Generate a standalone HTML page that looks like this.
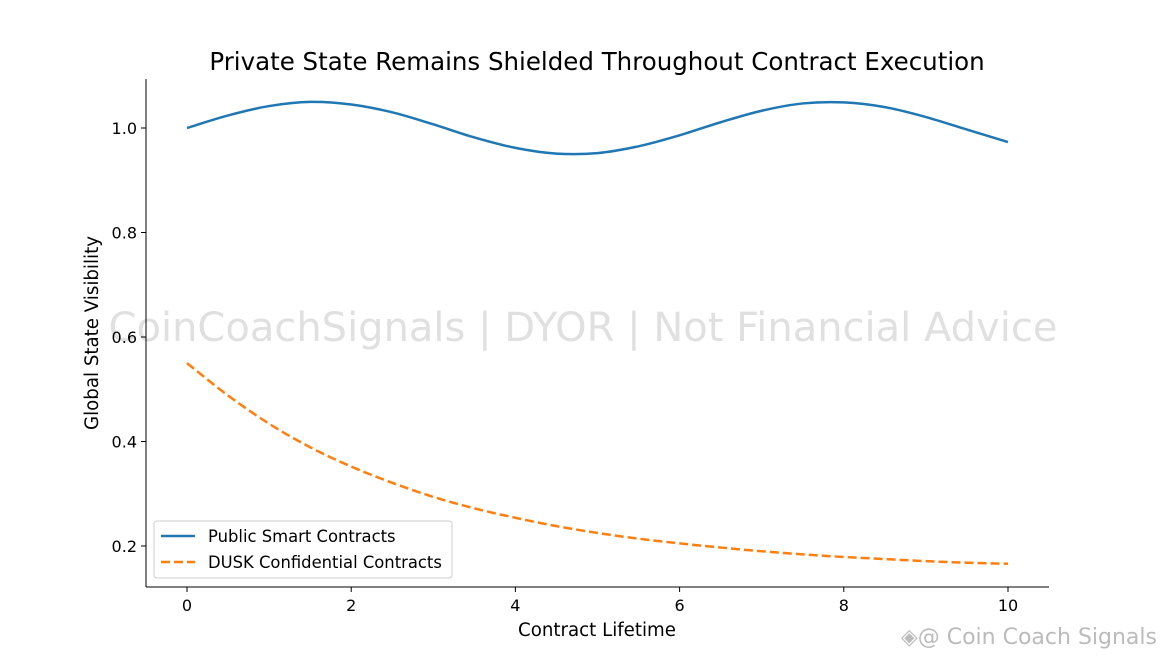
<!DOCTYPE html>
<html><head><meta charset="utf-8"><style>
html,body{margin:0;padding:0;background:#fff;}
svg{display:block;font-family:"DejaVu Sans","Liberation Sans",sans-serif;}
</style></head><body>
<svg id="chart" width="1165" height="660" viewBox="0 0 1165 660">
<text x="597" y="70" text-anchor="middle" font-size="24.5" fill="#000">Private State Remains Shielded Throughout Contract Execution</text>
<text x="583" y="341" text-anchor="middle" font-size="40" fill="#d9d9d9" opacity="0.8">CoinCoachSignals | DYOR | Not Financial Advice</text>
<g id="axes"></g>
<g id="series"></g>
<text x="597" y="636" text-anchor="middle" font-size="18.2">Contract Lifetime</text>
<text transform="translate(98,333) rotate(-90)" text-anchor="middle" font-size="18.2">Global State Visibility</text>
<g>
<rect x="154" y="521" width="298" height="57" rx="3" fill="#fff" fill-opacity="0.8" stroke="#ccc"/>
<line x1="161" y1="536" x2="195" y2="536" stroke="#1f77b4" stroke-width="2.5"/>
<text x="208" y="542" font-size="16.4">Public Smart Contracts</text>
<line x1="161" y1="562" x2="195" y2="562" stroke="#ff7f0e" stroke-width="2.5" stroke-dasharray="9,4"/>
<text x="208" y="568" font-size="16.4">DUSK Confidential Contracts</text>
</g>
<text x="1157" y="644" text-anchor="end" font-size="22" fill="#bbb">◈@ Coin Coach Signals</text>
</svg>
<script>
const xValues=[0,0.5,1,1.5,2,2.5,3,3.5,4,4.5,5,5.5,6,6.5,7,7.5,8,8.5,9,9.5,10];
const publicValues=[1.0,1.024,1.042,1.050,1.045,1.030,1.007,0.982,0.962,0.951,0.952,0.965,0.986,1.011,1.033,1.047,1.049,1.040,1.021,0.997,0.973];
const duskValues=[0.55,0.488,0.434,0.389,0.352,0.321,0.294,0.272,0.254,0.238,0.225,0.214,0.205,0.197,0.190,0.184,0.179,0.175,0.171,0.168,0.166];
const xTicks=[0,2,4,6,8,10];
const yTicks=[0.2,0.4,0.6,0.8,1.0];
const yTickLabels=["0.2","0.4","0.6","0.8","1.0"];
const NS="http://www.w3.org/2000/svg";
const sx=v=>187+v*82.1;
const sy=v=>128-(v-1.0)*522.5;
const axes=document.getElementById('axes');
function mk(tag,attrs,parent){const e=document.createElementNS(NS,tag);for(const k in attrs)e.setAttribute(k,attrs[k]);parent.appendChild(e);return e;}
const la=mk('line',{x1:146,y1:79,x2:146,y2:587,stroke:'#000','stroke-width':1},axes);


const ba=mk('line',{x1:146,y1:587,x2:1049,y2:587,stroke:'#000','stroke-width':1},axes);


xTicks.forEach(t=>{
 mk('line',{x1:sx(t),y1:587,x2:sx(t),y2:592,stroke:'#000'},axes);
 const tx=mk('text',{x:sx(t),y:611,'text-anchor':'middle','font-size':16},axes);
 tx.textContent=String(t);
 
 
});
yTicks.forEach((t,i)=>{
 mk('line',{x1:141,y1:sy(t),x2:146,y2:sy(t),stroke:'#000'},axes);
 const tx=mk('text',{x:137,y:sy(t)+6,'text-anchor':'end','font-size':16},axes);
 tx.textContent=yTickLabels[i];
 
 
});
function path(vals){
 const p=xValues.map((x,i)=>[sx(x),sy(vals[i])]);
 let d='M'+p[0][0]+','+p[0][1];
 for(let i=0;i<p.length-1;i++){
  const p0=p[Math.max(0,i-1)],p1=p[i],p2=p[i+1],p3=p[Math.min(p.length-1,i+2)];
  const c1=[p1[0]+(p2[0]-p0[0])/6,p1[1]+(p2[1]-p0[1])/6];
  const c2=[p2[0]-(p3[0]-p1[0])/6,p2[1]-(p3[1]-p1[1])/6];
  d+=' C'+c1+' '+c2+' '+p2;
 }
 return d;
}
const ser=document.getElementById('series');
const l1=mk('path',{d:path(publicValues),fill:'none',stroke:'#1f77b4','stroke-width':2.5},ser);


const l2=mk('path',{d:path(duskValues),fill:'none',stroke:'#ff7f0e','stroke-width':2.5,'stroke-dasharray':'9,4'},ser);


</script>
</body></html>
